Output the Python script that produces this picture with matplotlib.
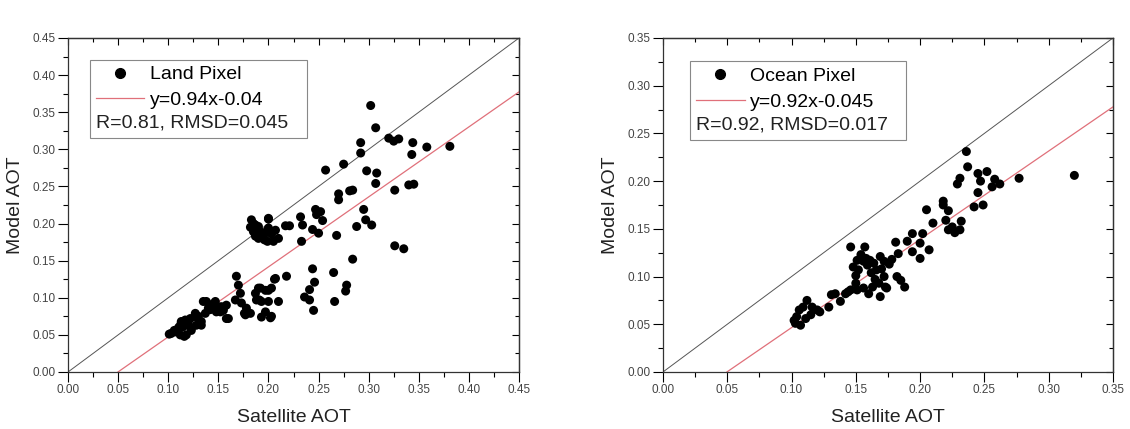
import matplotlib.pyplot as plt
from matplotlib.ticker import MultipleLocator, FormatStrFormatter
from matplotlib.lines import Line2D
from matplotlib.patches import Rectangle

plt.rcParams['font.family'] = ['Liberation Sans', 'DejaVu Sans']

# Land pixels (satellite AOT, model AOT)
land_x = [0.302, 0.307, 0.320, 0.325, 0.330, 0.344, 0.343, 0.358, 0.381, 0.292,
          0.292, 0.275, 0.257, 0.298, 0.308, 0.307, 0.326, 0.340, 0.345, 0.281,
          0.284, 0.270, 0.270, 0.295, 0.297, 0.303, 0.288, 0.326, 0.335, 0.284,
          0.268, 0.247, 0.252, 0.248, 0.254, 0.250, 0.244, 0.232, 0.234, 0.233,
          0.217, 0.221, 0.200,
          0.183, 0.185, 0.187, 0.190, 0.188, 0.185, 0.190, 0.192, 0.193, 0.195,
          0.190, 0.196, 0.198, 0.200, 0.200, 0.203, 0.207, 0.210, 0.205, 0.199,
          0.187, 0.182,
          0.168, 0.170, 0.172, 0.167, 0.173, 0.178, 0.182, 0.177, 0.187, 0.192,
          0.197, 0.200, 0.203, 0.207, 0.188, 0.193, 0.200, 0.197, 0.203, 0.158,
          0.155, 0.147, 0.148, 0.158, 0.138, 0.137, 0.130, 0.133, 0.127, 0.122,
          0.117, 0.113, 0.110, 0.107, 0.103, 0.112, 0.118, 0.123, 0.115, 0.128,
          0.142, 0.152, 0.153,
          0.176, 0.191, 0.210, 0.193, 0.202, 0.206, 0.218, 0.190,
          0.244, 0.246, 0.241, 0.236, 0.241, 0.245, 0.265, 0.266, 0.278, 0.277,
          0.101, 0.106, 0.111, 0.116, 0.113, 0.120, 0.123, 0.128, 0.135, 0.140,
          0.145, 0.148, 0.155, 0.160, 0.133]
land_y = [0.359, 0.329, 0.315, 0.311, 0.314, 0.309, 0.293, 0.303, 0.304, 0.309,
          0.295, 0.280, 0.272, 0.271, 0.268, 0.254, 0.245, 0.252, 0.253, 0.244,
          0.245, 0.240, 0.232, 0.219, 0.205, 0.198, 0.196, 0.170, 0.166, 0.152,
          0.184, 0.219, 0.216, 0.212, 0.204, 0.187, 0.192, 0.209, 0.198, 0.176,
          0.197, 0.197, 0.206,
          0.205, 0.200, 0.198, 0.196, 0.192, 0.189, 0.191, 0.185, 0.188, 0.183,
          0.180, 0.178, 0.189, 0.207, 0.194, 0.186, 0.191, 0.180, 0.176, 0.176,
          0.183, 0.195,
          0.129, 0.117, 0.106, 0.097, 0.093, 0.086, 0.079, 0.077, 0.106, 0.113,
          0.110, 0.110, 0.113, 0.126, 0.097, 0.095, 0.095, 0.081, 0.075, 0.090,
          0.086, 0.095, 0.081, 0.072, 0.095, 0.079, 0.075, 0.068, 0.079, 0.072,
          0.070, 0.066, 0.059, 0.054, 0.052, 0.050, 0.050, 0.059, 0.061, 0.063,
          0.084, 0.081, 0.088,
          0.079, 0.097, 0.095, 0.074, 0.073, 0.125, 0.129, 0.113,
          0.139, 0.121, 0.111, 0.101, 0.097, 0.083, 0.134, 0.095, 0.117, 0.109,
          0.051, 0.056, 0.061, 0.048, 0.068, 0.065, 0.056, 0.074, 0.095, 0.086,
          0.092, 0.089, 0.083, 0.072, 0.063]

# Ocean pixels
ocean_x = [0.236, 0.237, 0.245, 0.252, 0.258, 0.262, 0.256, 0.277, 0.320, 0.247,
           0.245, 0.242, 0.249, 0.231, 0.229, 0.218, 0.218, 0.222, 0.205, 0.210,
           0.220, 0.222, 0.227, 0.231, 0.232, 0.225, 0.202, 0.207, 0.200, 0.194,
           0.190, 0.194, 0.200, 0.181, 0.183, 0.182, 0.185, 0.188,
           0.146, 0.157, 0.151, 0.156, 0.161, 0.148, 0.152, 0.159, 0.164, 0.169,
           0.172, 0.166, 0.172, 0.168, 0.174, 0.169, 0.173, 0.151, 0.156, 0.160,
           0.146, 0.150, 0.163, 0.131, 0.134, 0.138, 0.142, 0.144, 0.129,
           0.112, 0.116, 0.120, 0.122, 0.109, 0.106, 0.102, 0.104, 0.107, 0.111,
           0.103, 0.115, 0.154, 0.158, 0.162, 0.150, 0.165, 0.170, 0.176, 0.178]
ocean_y = [0.231, 0.215, 0.208, 0.210, 0.202, 0.197, 0.194, 0.203, 0.206, 0.200,
           0.188, 0.173, 0.175, 0.203, 0.197, 0.179, 0.175, 0.169, 0.170, 0.156,
           0.159, 0.149, 0.146, 0.149, 0.158, 0.152, 0.145, 0.128, 0.119, 0.145,
           0.137, 0.126, 0.135, 0.136, 0.124, 0.100, 0.096, 0.089,
           0.131, 0.131, 0.117, 0.116, 0.117, 0.110, 0.107, 0.112, 0.114, 0.121,
           0.116, 0.107, 0.100, 0.093, 0.088, 0.079, 0.089, 0.086, 0.088, 0.082,
           0.086, 0.093, 0.089, 0.081, 0.082, 0.074, 0.082, 0.084, 0.068,
           0.075, 0.068, 0.065, 0.063, 0.068, 0.065, 0.054, 0.058, 0.049, 0.056,
           0.051, 0.060, 0.123, 0.119, 0.104, 0.101, 0.097, 0.108, 0.113, 0.118]

# fitted lines as drawn (slope, intercept)
land_fit = (0.943, -0.047)
ocean_fit = (0.925, -0.046)

panels = [
    dict(x=land_x, y=land_y, fit=land_fit, lim=0.45, name="Land Pixel",
         eq="y=0.94x-0.04", stat="R=0.81, RMSD=0.045", pos=[0.0602, 0.1329, 0.3991, 0.7786],
         box=(0.049, 0.70, 0.48, 0.235)),
    dict(x=ocean_x, y=ocean_y, fit=ocean_fit, lim=0.35, name="Ocean Pixel",
         eq="y=0.92x-0.045", stat="R=0.92, RMSD=0.017", pos=[0.5867, 0.1329, 0.3982, 0.7786],
         box=(0.061, 0.695, 0.478, 0.235)),
]

fig = plt.figure(figsize=(11.3, 4.29), dpi=100)

for p in panels:
    ax = fig.add_axes(p["pos"])
    lim = p["lim"]
    ax.plot([0, lim], [0, lim], color="#555555", lw=0.7, zorder=1)
    a, b = p["fit"]
    x0 = -b / a
    ax.plot([x0, lim], [0, a * lim + b], color="#e0707a", lw=0.9, zorder=2)
    ax.scatter(p["x"], p["y"], s=42, color="black", edgecolors="none", zorder=3)

    ax.set_xlim(0, lim)
    ax.set_ylim(0, lim)
    ax.xaxis.set_major_locator(MultipleLocator(0.05))
    ax.yaxis.set_major_locator(MultipleLocator(0.05))
    ax.xaxis.set_minor_locator(MultipleLocator(0.025))
    ax.yaxis.set_minor_locator(MultipleLocator(0.025))
    ax.xaxis.set_major_formatter(FormatStrFormatter("%.2f"))
    ax.yaxis.set_major_formatter(FormatStrFormatter("%.2f"))
    ax.tick_params(which="major", direction="out", length=7, width=0.8,
                   labelsize=8.5, labelcolor="#444444", pad=2)
    ax.tick_params(which="minor", direction="out", length=3.5, width=0.8)
    for s in ax.spines.values():
        s.set_linewidth(0.9)
        s.set_color("#333333")

    for side, axis in (("top", "x"), ("right", "y")):
        sec = ax.secondary_xaxis(side) if axis == "x" else ax.secondary_yaxis(side)
        sub = sec.xaxis if axis == "x" else sec.yaxis
        sub.set_major_locator(MultipleLocator(0.05))
        sub.set_minor_locator(MultipleLocator(0.025))
        sec.tick_params(which="major", direction="in", length=5, width=0.8,
                        labeltop=False, labelright=False)
        sec.tick_params(which="minor", direction="in", length=3, width=0.8)
        sec.spines[side].set_linewidth(0.9)
        sec.spines[side].set_color("#333333")

    ax.set_xlabel("Satellite AOT", fontsize=14, color="#222222", labelpad=9)
    ax.set_ylabel("Model AOT", fontsize=14, color="#222222", labelpad=6)

    bx, by, bw, bh = p["box"]
    ax.add_patch(Rectangle((bx, by), bw, bh, transform=ax.transAxes, fill=False,
                           edgecolor="#888888", lw=0.8, zorder=4))
    handles = [Line2D([], [], ls="none", marker="o", ms=7, color="black"),
               Line2D([], [], color="#e0707a", lw=0.9)]
    ax.legend(handles, [p["name"], p["eq"]], loc="upper left",
              bbox_to_anchor=(bx - 0.005, by + bh + 0.005), frameon=False,
              fontsize=14, handlelength=2.5, handletextpad=0.3,
              labelspacing=0.42, borderaxespad=0.0)
    ax.text(bx + 0.012, by + 0.02, p["stat"], transform=ax.transAxes,
            fontsize=14, color="#222222", va="bottom", ha="left", zorder=5)

fig.savefig("out.png", dpi=100)
